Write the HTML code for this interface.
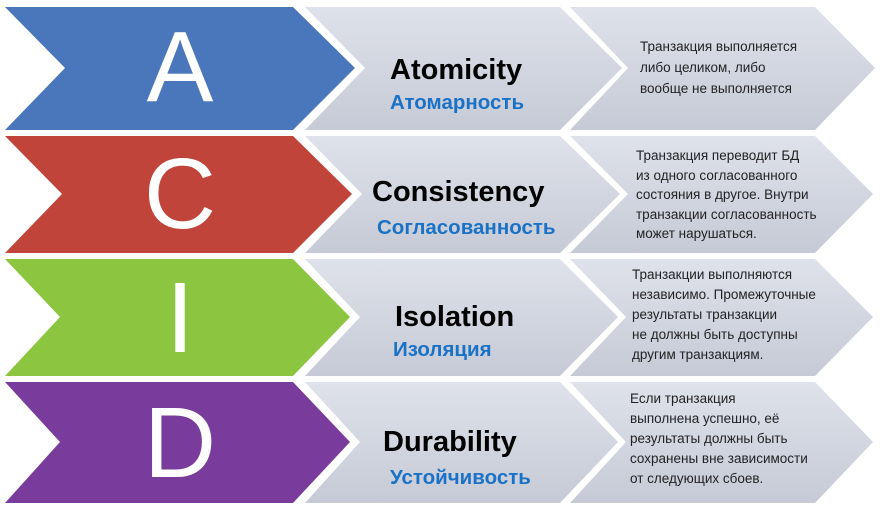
<!DOCTYPE html>
<html><head><meta charset="utf-8"><style>
html,body{margin:0;padding:0;background:#fff;width:883px;height:511px;overflow:hidden}
svg{display:block}
.big{font-family:"Liberation Sans",sans-serif;font-size:100px;fill:#fff;text-anchor:middle}
.t{font-family:"Liberation Sans",sans-serif;font-weight:bold;font-size:29px;fill:#000}
.s{font-family:"Liberation Sans",sans-serif;font-weight:bold;font-size:20.5px;fill:#1a72c6}
.d{font-family:"Liberation Sans",sans-serif;font-size:13.5px;fill:#222}
</style></head><body>
<svg width="883" height="511" viewBox="0 0 883 511">
<defs>
<linearGradient id="g" x1="0" y1="0" x2="0" y2="1"><stop offset="0" stop-color="#dfe2ea"/><stop offset="1" stop-color="#c6cad6"/></linearGradient>
</defs>
<polygon points="5,7 293,7 355,68 293,130 5,130 65,68" fill="#4a77bc"/>
<polygon points="305,7 560,7 622,68 560,130 305,130 365,68" fill="url(#g)"/>
<polygon points="570,7 815,7 875,68 815,130 570,130 628,68" fill="url(#g)"/>
<polygon points="5,136 293,136 352,194 293,253 5,253 62,194" fill="#c1443a"/>
<polygon points="305,136 560,136 620,194 560,253 305,253 362,194" fill="url(#g)"/>
<polygon points="570,136 815,136 873,194 815,253 570,253 628,194" fill="url(#g)"/>
<polygon points="5,259 293,259 350,317 293,376 5,376 60,317" fill="#8cc540"/>
<polygon points="305,259 560,259 618,317 560,376 305,376 360,317" fill="url(#g)"/>
<polygon points="570,259 815,259 873,317 815,376 570,376 626,317" fill="url(#g)"/>
<polygon points="5,382 293,382 350,442 293,503 5,503 60,442" fill="#7a3c9c"/>
<polygon points="305,382 560,382 618,442 560,503 305,503 360,442" fill="url(#g)"/>
<polygon points="570,382 815,382 873,442 815,503 570,503 626,442" fill="url(#g)"/>

<text class="big" x="180" y="101">A</text>
<text class="big" x="180" y="228">C</text>
<text class="big" x="180" y="352">I</text>
<text class="big" x="180" y="477">D</text>

<text class="t" x="390" y="79">Atomicity</text>
<text class="s" x="390" y="109">Атомарность</text>
<text class="t" x="372" y="201">Consistency</text>
<text class="s" x="377" y="234">Согласованность</text>
<text class="t" x="395" y="326">Isolation</text>
<text class="s" x="393" y="356">Изоляция</text>
<text class="t" x="383" y="451">Durability</text>
<text class="s" x="390" y="484">Устойчивость</text>

<text class="d" x="640" y="51">Транзакция выполняется</text>
<text class="d" x="640" y="72">либо целиком, либо</text>
<text class="d" x="640" y="93">вообще не выполняется</text>

<text class="d" x="636" y="160">Транзакция переводит БД</text>
<text class="d" x="636" y="180">из одного согласованного</text>
<text class="d" x="636" y="199">состояния в другое. Внутри</text>
<text class="d" x="636" y="219">транзакции согласованность</text>
<text class="d" x="636" y="238">может нарушаться.</text>

<text class="d" x="632" y="279">Транзакции выполняются</text>
<text class="d" x="632" y="299">независимо. Промежуточные</text>
<text class="d" x="632" y="319">результаты транзакции</text>
<text class="d" x="632" y="339">не должны быть доступны</text>
<text class="d" x="632" y="359">другим транзакциям.</text>

<text class="d" x="630" y="403">Если транзакция</text>
<text class="d" x="630" y="423">выполнена успешно, её</text>
<text class="d" x="630" y="443">результаты должны быть</text>
<text class="d" x="630" y="463">сохранены вне зависимости</text>
<text class="d" x="630" y="483">от следующих сбоев.</text>
</svg>
</body></html>
